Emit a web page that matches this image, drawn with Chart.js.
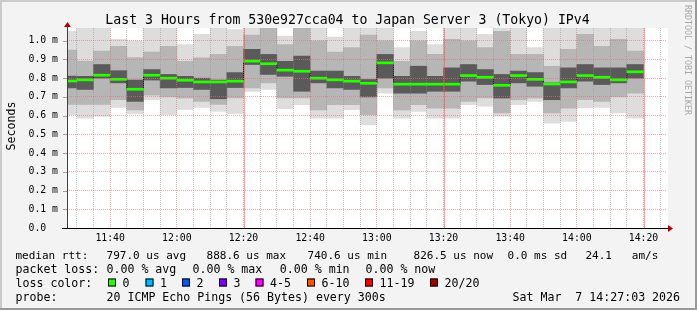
<!DOCTYPE html>
<html>
<head>
<meta charset="utf-8">
<style>
html, body { margin: 0; padding: 0; background: #f3f3f3; }
canvas { display: block; }
</style>
</head>
<body>
<canvas id="chart" width="697" height="310"></canvas>
<script src="https://cdn.jsdelivr.net/npm/chart.js@4/dist/chart.umd.min.js"></script>
<script>
// 5 minute steps, each value covers the 5 minutes before its time
const times = ['11:30', '11:35', '11:40', '11:45', '11:50', '11:55', '12:00', '12:05', '12:10', '12:15',
    '12:20', '12:25', '12:30', '12:35', '12:40', '12:45', '12:50', '12:55', '13:00', '13:05',
    '13:10', '13:15', '13:20', '13:25', '13:30', '13:35', '13:40', '13:45', '13:50', '13:55',
    '14:00', '14:05', '14:10', '14:15', '14:20'];

// milliseconds
const median = [0.785, 0.791, 0.816, 0.794, 0.741, 0.816, 0.800, 0.789, 0.780, 0.780,
    0.784, 0.891, 0.877, 0.843, 0.837, 0.800, 0.791, 0.784, 0.773, 0.882,
    0.768, 0.768, 0.768, 0.768, 0.814, 0.805, 0.762, 0.814, 0.794, 0.769,
    0.780, 0.814, 0.805, 0.791, 0.834];
const outerLo = [0.605, 0.587, 0.596, 0.644, 0.610, 0.685, 0.605, 0.633, 0.644, 0.623,
    0.610, 0.730, 0.740, 0.637, 0.658, 0.587, 0.587, 0.632, 0.551, 0.720,
    0.587, 0.623, 0.587, 0.587, 0.658, 0.650, 0.597, 0.658, 0.676, 0.560,
    0.569, 0.641, 0.644, 0.614, 0.587];
const outerHi = [1.050, 1.100, 1.100, 1.007, 1.000, 1.100, 1.100, 0.980, 1.034, 1.100,
    1.060, 1.100, 1.100, 1.025, 1.100, 1.100, 1.020, 1.070, 1.100, 1.100,
    0.963, 1.050, 0.980, 1.100, 1.100, 1.034, 1.100, 1.100, 0.963, 1.100,
    1.100, 1.100, 1.100, 1.100, 1.100];
const midLo = [0.660, 0.660, 0.660, 0.685, 0.630, 0.710, 0.700, 0.694, 0.676, 0.660,
    0.694, 0.748, 0.775, 0.694, 0.694, 0.630, 0.658, 0.658, 0.605, 0.748,
    0.630, 0.658, 0.640, 0.640, 0.676, 0.694, 0.614, 0.685, 0.694, 0.614,
    0.640, 0.685, 0.676, 0.700, 0.720];
const midHi = [0.950, 0.891, 0.945, 0.970, 0.910, 0.940, 0.970, 0.890, 0.909, 0.927,
    0.970, 1.030, 1.070, 0.980, 1.070, 1.000, 0.940, 0.963, 1.030, 1.000,
    0.890, 1.000, 0.927, 1.007, 1.000, 0.963, 1.050, 0.927, 0.927, 0.864,
    0.954, 1.034, 0.970, 1.007, 0.945];
const coreLo = [0.748, 0.740, 0.800, 0.775, 0.676, 0.790, 0.748, 0.750, 0.740, 0.690,
    0.750, 0.873, 0.820, 0.810, 0.730, 0.775, 0.748, 0.740, 0.700, 0.800,
    0.720, 0.720, 0.730, 0.730, 0.784, 0.766, 0.694, 0.775, 0.757, 0.685,
    0.748, 0.784, 0.766, 0.775, 0.800];
const coreHi = [0.811, 0.810, 0.873, 0.840, 0.790, 0.846, 0.820, 0.810, 0.800, 0.790,
    0.830, 0.954, 0.927, 0.890, 0.918, 0.838, 0.838, 0.810, 0.793, 0.927,
    0.810, 0.864, 0.810, 0.855, 0.873, 0.846, 0.820, 0.838, 0.830, 0.775,
    0.855, 0.873, 0.855, 0.855, 0.873];

const xTickLabels = ['11:40', '12:00', '12:20', '12:40', '13:00', '13:20', '13:40', '14:00', '14:20'];
const yTickValues = [0, 0.1, 0.2, 0.3, 0.4, 0.5, 0.6, 0.7, 0.8, 0.9, 1.0];
const yTickLabels = ['0.0  ', '0.1 m', '0.2 m', '0.3 m', '0.4 m', '0.5 m', '0.6 m', '0.7 m', '0.8 m', '0.9 m', '1.0 m'];
const redRules = ['12:20', '13:20', '14:20'];

const lossLabels = ['0', '1', '2', '3', '4-5', '6-10', '11-19', '20/20'];
const lossColors = ['#26ff00', '#00b8ff', '#0059ff', '#7e00ff', '#ff00ff', '#ff5500', '#ff0000', '#a10000'];

const startTime = '11:27:03';
const endTime = '14:27:03';

const toMin = s => {
    const p = s.split(':').map(Number);
    return p[0] * 60 + p[1] + (p[2] || 0) / 60;
};
const fmt = v => {
    const h = Math.floor(v / 60), m = Math.round(v % 60);
    return String(h).padStart(2, '0') + ':' + String(m).padStart(2, '0');
};

const MONO = "'DejaVu Sans Mono', monospace";
Chart.defaults.font.family = MONO;

const band = (lo, hi, color, order) => ({
    type: 'bar',
    data: times.map((t, i) => ({ x: toMin(t) - 2.5, y: [lo[i], hi[i]] })),
    backgroundColor: color,
    borderWidth: 0,
    grouped: false,
    barPercentage: 1,
    categoryPercentage: 1,
    clip: 0,
    order: order
});

const MEDIAN_HALF = 0.0055;

const decor = {
    id: 'decor',
    beforeDraw(chart) {
        const { ctx, chartArea: a } = chart;
        ctx.save();
        ctx.fillStyle = '#f3f3f3';
        ctx.fillRect(0, 0, 697, 310);
        ctx.fillStyle = '#cbcbcb';
        ctx.fillRect(0, 0, 697, 2);
        ctx.fillRect(0, 0, 2, 310);
        ctx.fillStyle = '#999999';
        ctx.fillRect(0, 308, 697, 2);
        ctx.fillRect(695, 0, 2, 310);
        ctx.fillStyle = '#ffffff';
        ctx.fillRect(a.left, a.top, a.right - a.left + 1, a.bottom - a.top);
        ctx.restore();
    },
    afterDraw(chart) {
        const { ctx, chartArea: a } = chart;
        const xs = chart.scales.x, ys = chart.scales.y;
        ctx.save();

        // solid red rules
        ctx.strokeStyle = 'rgba(255, 70, 70, 0.5)';
        ctx.lineWidth = 1;
        redRules.forEach(t => {
            const px = Math.round(xs.getPixelForValue(toMin(t))) + 0.5;
            ctx.beginPath();
            ctx.moveTo(px, a.top);
            ctx.lineTo(px, a.bottom);
            ctx.stroke();
        });

        // y tick marks
        ctx.strokeStyle = '#a0a0a0';
        yTickValues.forEach(v => {
            const py = Math.round(ys.getPixelForValue(v)) + 0.5;
            ctx.beginPath();
            ctx.moveTo(a.left - 4, py);
            ctx.lineTo(a.left, py);
            ctx.stroke();
        });

        // axes
        ctx.strokeStyle = '#000000';
        ctx.beginPath();
        ctx.moveTo(a.left - 5, a.bottom + 0.5);
        ctx.lineTo(a.right + 4, a.bottom + 0.5);
        ctx.stroke();
        ctx.strokeStyle = '#404040';
        ctx.beginPath();
        ctx.moveTo(a.left + 0.5, a.bottom);
        ctx.lineTo(a.left + 0.5, a.top - 3);
        ctx.stroke();
        ctx.fillStyle = '#b00000';
        ctx.beginPath();
        ctx.moveTo(a.right + 1, a.bottom - 3);
        ctx.lineTo(a.right + 6, a.bottom + 0.5);
        ctx.lineTo(a.right + 1, a.bottom + 4);
        ctx.closePath();
        ctx.fill();
        ctx.beginPath();
        ctx.moveTo(a.left - 3, a.top - 1);
        ctx.lineTo(a.left + 0.5, a.top - 6);
        ctx.lineTo(a.left + 4, a.top - 1);
        ctx.closePath();
        ctx.fill();

        // title
        ctx.fillStyle = '#000';
        ctx.textBaseline = 'alphabetic';
        ctx.textAlign = 'center';
        ctx.font = '13.2px ' + MONO;
        ctx.fillText('Last 3 Hours from 530e927cca04 to Japan Server 3 (Tokyo) IPv4', 347.5, 24);

        // unit
        ctx.save();
        ctx.translate(15, 126);
        ctx.rotate(-Math.PI / 2);
        ctx.font = '11.6px ' + MONO;
        ctx.fillText('Seconds', 0, 0);
        ctx.restore();

        // watermark
        ctx.save();
        ctx.translate(685, 60);
        ctx.rotate(Math.PI / 2);
        ctx.fillStyle = '#a8a8a8';
        ctx.font = '8.3px ' + MONO;
        ctx.fillText('RRDTOOL / TOBI OETIKER', 0, 0);
        ctx.restore();

        // legend
        ctx.textAlign = 'left';
        const rows = [
            [258.5, 11.0, [[15.5, 'median rtt:'], [106.6, '797.0 us avg'], [206.6, '888.6 us max'],
                [307.6, '740.6 us min'], [413.6, '826.5 us now'], [507.6, '0.0 ms sd'], [585.5, '24.1   am/s']]],
            [272.5, 11.6, [[15.5, 'packet loss:'], [106.5, '0.00 % avg'], [192.5, '0.00 % max'],
                [279.8, '0.00 % min'], [365.5, '0.00 % now']]],
            [286.5, 11.6, [[15.5, 'loss color:']]],
            [300.7, 11.6, [[15.5, 'probe:'], [106.5, '20 ICMP Echo Pings (56 Bytes) every 300s'],
                [512.5, 'Sat Mar  7 14:27:03 2026']]]
        ];
        rows.forEach(r => {
            ctx.font = r[1] + 'px ' + MONO;
            r[2].forEach(p => ctx.fillText(p[1], p[0], r[0]));
        });

        ctx.font = '11.6px ' + MONO;
        const boxX = [108, 145.5, 182, 219, 255.5, 307, 365, 430];
        lossLabels.forEach((lab, i) => {
            ctx.fillStyle = lossColors[i];
            ctx.fillRect(boxX[i], 278.5, 8, 8);
            ctx.strokeStyle = '#000';
            ctx.strokeRect(boxX[i] + 0.5, 278.5 + 0.5, 7, 7);
            ctx.fillStyle = '#000';
            ctx.fillText(lab, boxX[i] + 14.5, 286.5);
        });

        ctx.restore();
    }
};

const gridMinutes = [];
for (let m = 690; m <= 865; m += 5) gridMinutes.push(m);

new Chart(document.getElementById('chart'), {
    type: 'bar',
    data: {
        datasets: [
            band(outerLo, outerHi, '#dddddd', 6),
            band(midLo, midHi, '#b6b6b6', 5),
            band(coreLo, coreHi, '#5a5a5a', 4),
            {
                type: 'line',
                data: times.map((t, i) => ({ x: toMin(t) - 2.5, y: median[i] })),
                stepped: 'middle',
                borderColor: '#202020',
                borderWidth: 1,
                pointRadius: 0,
                clip: 0,
                order: 2
            },
            band(median.map(m => m - MEDIAN_HALF), median.map(m => m + MEDIAN_HALF), '#26ff00', 1)
        ]
    },
    options: {
        responsive: false,
        animation: false,
        devicePixelRatio: 1,
        layout: { padding: { top: 28, right: 30, bottom: 0, left: 0 } },
        plugins: {
            legend: { display: false },
            tooltip: { enabled: false },
            title: { display: false }
        },
        scales: {
            x: {
                type: 'linear',
                min: toMin(startTime),
                max: toMin(endTime),
                offset: false,
                afterBuildTicks: s => { s.ticks = gridMinutes.map(v => ({ value: v })); },
                afterFit: s => { s.height = 82; },
                grid: {
                    offset: false,
                    drawTicks: false,
                    z: 1,
                    color: c => (c.tick && c.tick.value % 20 === 0) ? 'rgba(230, 110, 110, 0.6)' : 'rgba(140, 140, 140, 0.5)'
                },
                border: { display: false, dash: [1, 1] },
                ticks: {
                    autoSkip: false,
                    maxRotation: 0,
                    padding: 5,
                    color: '#000',
                    font: { size: 9.8 },
                    callback: v => {
                        const s = fmt(v);
                        return xTickLabels.includes(s) ? s : '';
                    }
                }
            },
            y: {
                type: 'linear',
                min: 0,
                max: 1.068,
                afterBuildTicks: s => { s.ticks = yTickValues.map(v => ({ value: v })); },
                afterFit: s => { s.width = 67; },
                grid: {
                    drawTicks: false,
                    z: 1,
                    color: 'rgba(230, 110, 110, 0.6)'
                },
                border: { display: false, dash: [1, 1] },
                ticks: {
                    padding: 9,
                    color: '#000',
                    font: { size: 9.8 },
                    callback: (v, i) => yTickLabels[i]
                }
            }
        }
    },
    plugins: [decor]
});
</script>
</body>
</html>
